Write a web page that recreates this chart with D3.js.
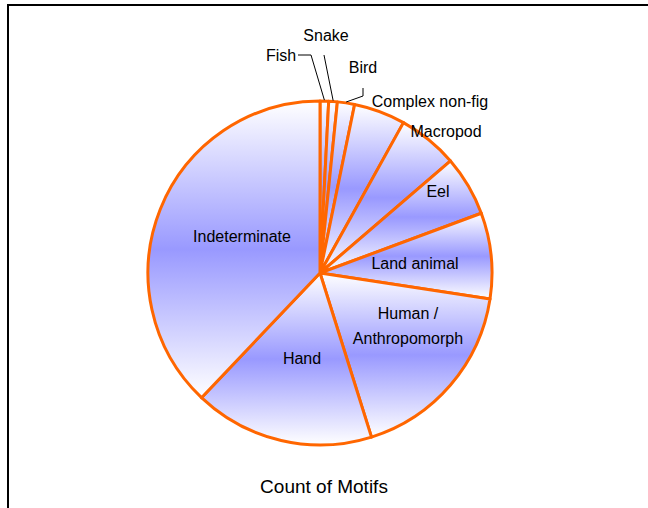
<!DOCTYPE html>
<html>
<head>
<meta charset="utf-8">
<script src="https://cdn.jsdelivr.net/npm/d3@7"></script>
<style>
  html, body { margin: 0; padding: 0; background: #fff; }
  svg { display: block; }
  text { font-family: "Liberation Sans", Arial, sans-serif; fill: #000; }
</style>
</head>
<body>
<svg id="chart" width="648" height="508"></svg>
<script>
// ---- data ----
const categories = ["Fish", "Snake", "Bird", "Complex non-fig", "Macropod", "Eel",
                    "Land animal", "Human /\nAnthropomorph", "Hand", "Indeterminate"];
const counts = [1, 1, 2, 6, 7, 7, 10, 22, 21, 47];
const chartTitle = "Count of Motifs";

// ---- layout (label placement relative to pie centre) ----
const labelOffsets = [[-39, -218], [6, -238], [43, -206], [110, -172], [126, -142],
                      [118, -82], [95, -10], [88, 53], [-18, 85], [-78, -37]];
// leader start points (relative to centre) for labels placed outside with a leader
const leaderStarts = {
  0: [[-22, -218], [-9, -218]],
  1: [[4, -218]],
  2: [[43, -185], [43, -177]]
};

const W = 648, H = 508;
const cx = 320, cy = 273, R = 172;
const svg = d3.select("#chart");

// frame
svg.append("rect").attr("x", 8).attr("y", 5).attr("width", 700).attr("height", 560)
  .attr("fill", "#fff").attr("stroke", "#000").attr("stroke-width", 2);

// gradient: white -> periwinkle -> white, top to bottom of each slice
const defs = svg.append("defs");
const grad = defs.append("linearGradient").attr("id", "sliceGrad")
  .attr("x1", 0).attr("y1", 0).attr("x2", 0).attr("y2", 1);
grad.append("stop").attr("offset", "0%").attr("stop-color", "#ffffff");
grad.append("stop").attr("offset", "50%").attr("stop-color", "#9999ff");
grad.append("stop").attr("offset", "100%").attr("stop-color", "#ffffff");

const pie = d3.pie().sort(null).value(d => d).startAngle(0).endAngle(2 * Math.PI);
const arcs = pie(counts);
const arc = d3.arc().innerRadius(0).outerRadius(R);

const g = svg.append("g").attr("transform", `translate(${cx},${cy})`);

g.selectAll("path.slice").data(arcs).enter().append("path")
  .attr("class", "slice")
  .attr("d", arc)
  .attr("fill", "url(#sliceGrad)")
  .attr("stroke", "#ff6600")
  .attr("stroke-width", 3)
  .attr("stroke-linejoin", "round");

// leader lines
Object.keys(leaderStarts).forEach(k => {
  const a = arcs[+k];
  const mid = (a.startAngle + a.endAngle) / 2;
  const end = [Math.sin(mid) * (R + 1), -Math.cos(mid) * (R + 1)];
  const pts = leaderStarts[k].concat([end]);
  g.append("path")
    .attr("d", d3.line()(pts))
    .attr("fill", "none")
    .attr("stroke", "#000")
    .attr("stroke-width", 1);
});

// labels
categories.forEach((c, i) => {
  const lines = c.split("\n");
  const [dx, dy] = labelOffsets[i];
  const t = g.append("text")
    .attr("x", dx).attr("y", dy)
    .attr("text-anchor", "middle")
    .attr("font-size", 16);
  lines.forEach((ln, j) => {
    t.append("tspan")
      .attr("x", dx)
      .attr("dy", j === 0 ? (0.35 - (lines.length - 1) * 0.78) + "em" : "1.56em")
      .text(ln);
  });
});

// title
svg.append("text").attr("x", 324).attr("y", 493)
  .attr("text-anchor", "middle").attr("font-size", 19)
  .text(chartTitle);
</script>
</body>
</html>
